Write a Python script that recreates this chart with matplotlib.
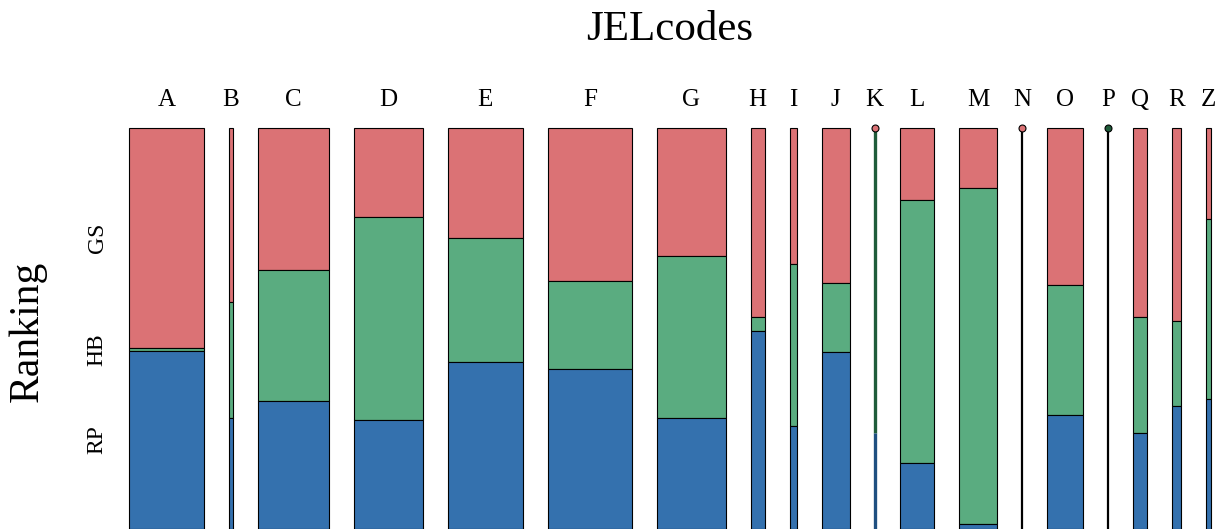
import matplotlib.pyplot as plt
from matplotlib.patches import Rectangle

# JEL codes (columns) and their relative sizes (column widths)
codes = ["A", "B", "C", "D", "E", "F", "G", "H", "I", "J",
         "K", "L", "M", "N", "O", "P", "Q", "R", "Z"]
totals = [74.3, 3.9, 71.0, 68.3, 74.7, 83.4, 68.6, 13.7, 7.5, 27.3,
          0.0, 34.7, 37.3, 0.0, 35.6, 0.0, 13.7, 9.4, 5.0]

# conditional shares within each code (top to bottom: GS, HB, RP)
gs_share = [0.549, 0.435, 0.354, 0.222, 0.274, 0.382, 0.319, 0.471, 0.339, 0.387,
            0.000, 0.180, 0.150, 0.000, 0.392, 0.000, 0.471, 0.481, 0.227]
hb_share = [0.007, 0.289, 0.327, 0.506, 0.309, 0.219, 0.404, 0.035, 0.404, 0.172,
            0.761, 0.656, 0.838, 0.000, 0.324, 0.000, 0.289, 0.213, 0.450]
rp_share = [0.444, 0.276, 0.319, 0.272, 0.417, 0.399, 0.277, 0.494, 0.257, 0.441,
            0.239, 0.164, 0.012, 0.000, 0.284, 0.000, 0.240, 0.306, 0.323]

# dot colour for empty columns
empty_dot = {"K": "GS", "N": "GS", "P": "HB"}

levels = ["GS", "HB", "RP"]
colors = {"GS": "#DB7275", "HB": "#5AAC80", "RP": "#3471AE"}
dark = {"GS": "#B0484C", "HB": "#1F5C3A", "RP": "#1F4F80"}

W, H = 1221, 529
fig = plt.figure(figsize=(W / 100, H / 100), dpi=100)
plt.rcParams["font.family"] = ["Liberation Serif", "DejaVu Serif"]

# plot region in pixels
left, right, top, bottom = 129, 1211, 128, 529
ax = fig.add_axes([left / W, 1 - bottom / H, (right - left) / W, (bottom - top) / H])
ax.set_xlim(0, 1)
ax.set_ylim(0, 1)
ax.axis("off")

gap = 25.0 / (right - left)
n = len(codes)
avail = 1 - gap * (n - 1)
tot = sum(totals)

x = 0.0
centers = []
for i, code in enumerate(codes):
    w = totals[i] / tot * avail
    shares = {"GS": gs_share[i], "HB": hb_share[i], "RP": rp_share[i]}
    if w > 0:
        y = 1.0
        for lv in levels:
            h = shares[lv]
            ax.add_patch(Rectangle((x, y - h), w, h, facecolor=colors[lv],
                                   edgecolor="black", linewidth=0.8, clip_on=False))
            y -= h
    else:
        # empty column: a stem with a dot at the top
        y = 1.0
        if sum(shares.values()) > 0:
            for lv in levels:
                h = shares[lv]
                if h > 0:
                    ax.plot([x, x], [y - h, y], color=dark[lv], linewidth=2.4,
                            solid_capstyle="butt", clip_on=False)
                y -= h
        else:
            ax.plot([x, x], [0, 1], color="black", linewidth=1.6,
                    solid_capstyle="butt", clip_on=False)
        lv = empty_dot[code]
        ax.plot([x], [1.0], marker="o", markersize=5,
                markerfacecolor=colors[lv] if lv == "GS" else dark[lv],
                markeredgecolor="black", markeredgewidth=0.8,
                clip_on=False, zorder=5)
    centers.append(x + w / 2)
    x += w + gap

# column labels
for c, code in zip(centers, codes):
    fig.text((left + c * (right - left)) / W, 1 - 100 / H, code,
             ha="center", va="center", fontsize=18)

# row labels placed at the first column's tiles
y = 1.0
for lv in levels:
    h = {"GS": gs_share[0], "HB": hb_share[0], "RP": rp_share[0]}[lv]
    yc = y - h / 2
    fig.text(97 / W, 1 - (top + (1 - yc) * (bottom - top)) / H, lv,
             rotation=90, ha="center", va="center", fontsize=17)
    y -= h

fig.text((left + right) / 2 / W, 1 - 30 / H, "JELcodes",
         ha="center", va="center", fontsize=31)
fig.text(28 / W, 1 - 331 / H, "Ranking", rotation=90,
         ha="center", va="center", fontsize=30)

fig.savefig("out.png", dpi=100)
